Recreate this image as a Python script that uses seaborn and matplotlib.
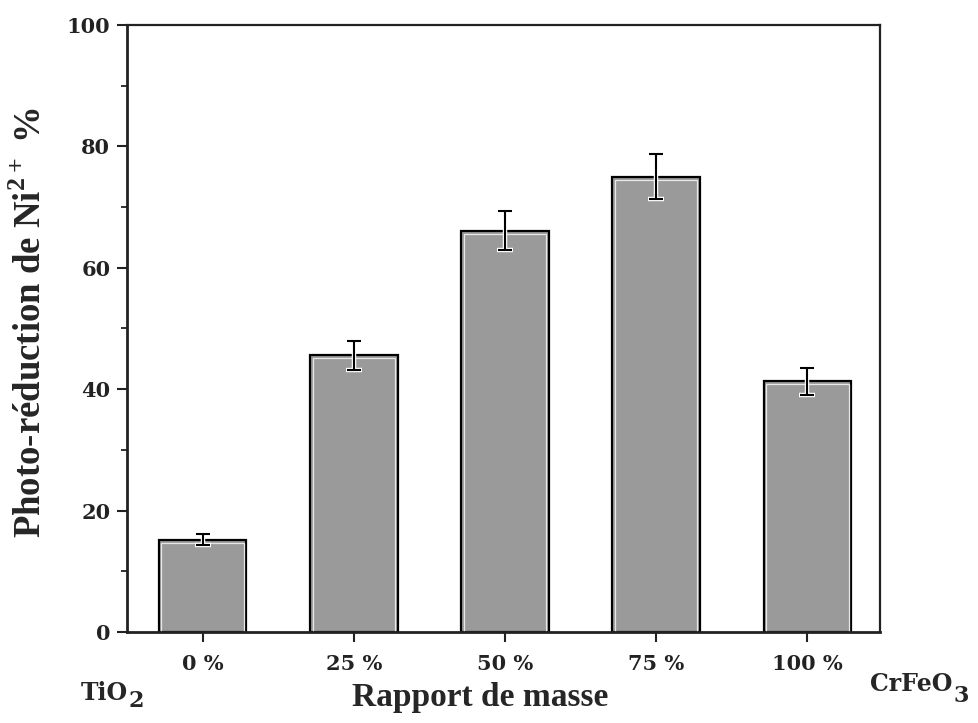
import matplotlib
matplotlib.use("Agg")
import matplotlib.pyplot as plt
from matplotlib.ticker import MultipleLocator
import seaborn as sns
import pandas as pd

# Mass ratio of CrFeO3 in TiO2 and the Ni2+ photo-reduction yield
ratios = ["0 %", "25 %", "50 %", "75 %", "100 %"]
reduction = [15.2, 45.6, 66.1, 75.0, 41.3]
errors = [0.9, 2.4, 3.2, 3.7, 2.2]

df = pd.DataFrame({"ratio": ratios, "reduction": reduction})

sns.set_theme(style="ticks")
plt.rcParams["font.family"] = ["Liberation Serif", "DejaVu Serif"]
plt.rcParams["font.weight"] = "bold"
plt.rcParams["mathtext.fontset"] = "custom"
plt.rcParams["mathtext.rm"] = "Liberation Serif:bold"
plt.rcParams["mathtext.bf"] = "Liberation Serif:bold"

W, H = 979, 723
fig = plt.figure(figsize=(W / 100, H / 100), dpi=100)
ax = fig.add_axes([0.1297, 0.1259, 0.7692, 0.8395])

sns.barplot(data=df, x="ratio", y="reduction", order=ratios, color="#9a9a9a",
            saturation=1, width=0.58, edgecolor="black", linewidth=1.6, ax=ax)

# thin light inner rim inside each bar
for p in ax.patches:
    x0, y0 = p.get_x(), p.get_y()
    w, h = p.get_width(), p.get_height()
    inset = plt.Rectangle((x0 + 0.018, y0), w - 0.036, h - 0.5, fill=False,
                          edgecolor="#e8e8e8", linewidth=0.9, zorder=p.get_zorder() + 0.1)
    ax.add_patch(inset)

# error bars with a white halo underneath
xs = list(range(len(ratios)))
ax.errorbar(xs, reduction, yerr=errors, fmt="none", ecolor="white",
            elinewidth=3.2, capsize=6, capthick=3.2, zorder=4)
ax.errorbar(xs, reduction, yerr=errors, fmt="none", ecolor="black",
            elinewidth=1.5, capsize=5, capthick=1.5, zorder=5)

ax.set_xlim(-0.5, 4.48)
ax.set_ylim(0, 100)
ax.yaxis.set_major_locator(MultipleLocator(20))
ax.yaxis.set_minor_locator(MultipleLocator(10))

for side in ["left", "bottom", "top", "right"]:
    ax.spines[side].set_visible(True)
    ax.spines[side].set_color("#222222")
ax.spines["left"].set_linewidth(2.0)
ax.spines["bottom"].set_linewidth(2.0)
ax.spines["top"].set_linewidth(1.6)
ax.spines["right"].set_linewidth(1.6)

ax.tick_params(axis="y", which="major", direction="out", length=7, width=1.5,
               pad=5, colors="#222222")
ax.tick_params(axis="y", which="minor", direction="out", length=4, width=1.3,
               colors="#222222")
ax.tick_params(axis="x", which="major", direction="out", length=7, width=1.5,
               pad=9, colors="#222222")
ax.tick_params(axis="y", which="both", right=False)
ax.tick_params(axis="x", which="both", top=False)
for lab in ax.get_xticklabels() + ax.get_yticklabels():
    lab.set_fontfamily(["DejaVu Serif"])
    lab.set_fontweight("bold")
    lab.set_fontsize(15)

ax.set_xlabel("Rapport de masse", fontsize=24, fontweight="bold")
ax.set_ylabel(r"Photo-réduction de Ni$^{2+}$ %", fontsize=26.5, fontweight="bold")
ax.xaxis.set_label_coords(0.469, -0.082)
ax.yaxis.set_label_coords(-0.104, 0.51)


def formula(x_px, base_px, body, sub, drop_pt):
    """Chemical formula with a large, lowered subscript digit."""
    t = fig.text(x_px / W, 1 - base_px / H, body, fontsize=17, fontweight="bold",
                 ha="left", va="baseline", family=["DejaVu Serif"])
    ax.annotate(sub, xy=(1, 0), xycoords=t, xytext=(0.5, -drop_pt),
                textcoords="offset points", fontsize=16, fontweight="bold",
                ha="left", va="bottom", family=["DejaVu Serif"],
                annotation_clip=False)


formula(81, 700, "TiO", "2", 5)
formula(870, 691, "CrFeO", "3", 8)

fig.savefig("out.png", dpi=100, facecolor="white")
